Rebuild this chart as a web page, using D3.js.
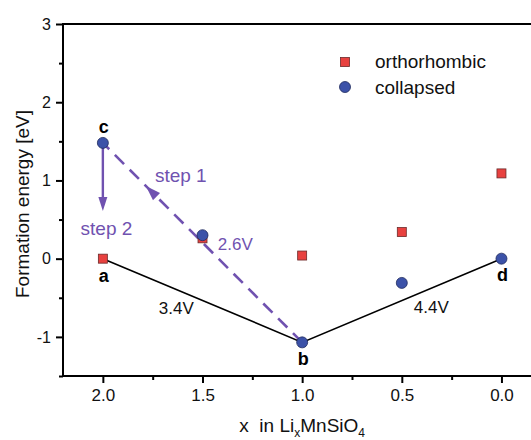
<!DOCTYPE html>
<html><head><meta charset="utf-8">
<script src="https://cdn.jsdelivr.net/npm/d3@7"></script>
<style>body{margin:0;background:#fff}svg{display:block}text{font-family:"Liberation Sans",Arial,sans-serif}</style>
</head><body><svg id="chart" width="531" height="440"></svg>
<script>
// ---- data ----
const xValues = [2.0, 1.5, 1.0, 0.5, 0.0];
const orthorhombic = [0.0, 0.26, 0.04, 0.34, 1.09];
const collapsed = [1.48, 0.30, -1.07, -0.31, 0.0];
const hullX = [2.0, 1.0, 0.0];
const hullY = [0.0, -1.07, 0.0];
const xTicks = [2.0, 1.5, 1.0, 0.5, 0.0];
const xTickLabels = ["2.0", "1.5", "1.0", "0.5", "0.0"];
const xMinorTicks = [1.75, 1.25, 0.75, 0.25];
const yTicks = [-1, 0, 1, 2, 3];
const yTickLabels = ["-1", "0", "1", "2", "3"];
const yMinorTicks = [-1.5, -0.5, 0.5, 1.5, 2.5];
const seriesNames = ["orthorhombic", "collapsed"];
const pointNames = ["a", "b", "c", "d"];
const voltageLabels = ["3.4V", "4.4V", "2.6V"];
const stepLabels = ["step 1", "step 2"];

// ---- layout ----
const svg = d3.select("#chart");
const x = d3.scaleLinear().domain([2.2, -0.2]).range([63, 63 + 2.4 * 199.3]);
const y = d3.scaleLinear().domain([-1.5, 3]).range([376, 24]);
const purple = "#7052b0";
const red = "#e8413f", blue = "#3c52a8";

// frame
svg.append("rect").attr("x", x(2.2)).attr("y", y(3))
  .attr("width", x(-0.2) - x(2.2)).attr("height", y(-1.5) - y(3))
  .attr("fill", "none").attr("stroke", "#000").attr("stroke-width", 2);

// axes
const xAxis = svg.append("g").attr("transform", `translate(0,${y(-1.5)})`)
  .call(d3.axisBottom(x).tickValues(xTicks).tickSize(7).tickPadding(6)
    .tickFormat((d, i) => xTickLabels[i]));
const xMinor = svg.append("g").attr("transform", `translate(0,${y(-1.5)})`)
  .call(d3.axisBottom(x).tickValues(xMinorTicks).tickSize(4).tickFormat(""));
const yAxis = svg.append("g").attr("transform", `translate(${x(2.2)},0)`)
  .call(d3.axisLeft(y).tickValues(yTicks).tickSize(7).tickPadding(5)
    .tickFormat((d, i) => yTickLabels[i]));
const yMinor = svg.append("g").attr("transform", `translate(${x(2.2)},0)`)
  .call(d3.axisLeft(y).tickValues(yMinorTicks).tickSize(4).tickFormat(""));
[xAxis, xMinor, yAxis, yMinor].forEach(g => {
  g.select(".domain").remove();
  g.selectAll(".tick line").attr("stroke", "#000").attr("stroke-width", 2);
});
xAxis.selectAll("text").attr("font-size", 17).attr("fill", "#111")
  .attr("font-family", '"Liberation Sans",Arial,sans-serif');
yAxis.selectAll("text").attr("font-size", 16).attr("fill", "#111")
  .attr("font-family", '"Liberation Sans",Arial,sans-serif');

// axis titles
svg.append("text").attr("transform", `translate(29,${(y(-1.5)+y(3))/2 + 4}) rotate(-90)`)
  .attr("text-anchor", "middle").attr("font-size", 19).attr("fill", "#111")
  .text("Formation energy [eV]");
const xt = svg.append("text").attr("x", x(1.0)).attr("y", 432)
  .attr("text-anchor", "middle").attr("font-size", 19).attr("fill", "#111");
xt.append("tspan").text("x\u00a0\u00a0in Li");
xt.append("tspan").attr("font-size", 12).attr("dy", 5).text("x");
xt.append("tspan").attr("dy", -5).text("MnSiO");
xt.append("tspan").attr("font-size", 12).attr("dy", 5).text("4");

// convex hull line
const hull = hullX.map((d, i) => [d, hullY[i]]);
svg.append("path").datum(hull)
  .attr("d", d3.line().x(d => x(d[0])).y(d => y(d[1])))
  .attr("fill", "none").attr("stroke", "#000").attr("stroke-width", 1.6);

// step 1 dashed line b -> c
const bPt = [xValues[2], collapsed[2]], cPt = [xValues[0], collapsed[0]];
svg.append("line").attr("x1", x(bPt[0])).attr("y1", y(bPt[1]))
  .attr("x2", x(cPt[0])).attr("y2", y(cPt[1]))
  .attr("stroke", purple).attr("stroke-width", 2.6).attr("stroke-dasharray", "13,8");
// arrow head helper
function arrowHead(tx, ty, ang, len, hw) {
  const bx = tx - len * Math.cos(ang), by = ty - len * Math.sin(ang);
  const px = -Math.sin(ang), py = Math.cos(ang);
  return `M${tx},${ty}L${bx + hw*px},${by + hw*py}L${bx - hw*px},${by - hw*py}Z`;
}
{
  const x1 = x(bPt[0]), y1 = y(bPt[1]), x2 = x(cPt[0]), y2 = y(cPt[1]);
  const t = 0.784;
  const tx = x1 + (x2 - x1) * t, ty = y1 + (y2 - y1) * t;
  const ang = Math.atan2(y2 - y1, x2 - x1);
  svg.append("path").attr("d", arrowHead(tx, ty, ang, 15, 5)).attr("fill", purple);
}
// step 2 vertical arrow
{
  const cx = x(cPt[0]), cy = y(cPt[1]), ty = y(0.61);
  svg.append("line").attr("x1", cx).attr("y1", cy).attr("x2", cx).attr("y2", ty - 10)
    .attr("stroke", purple).attr("stroke-width", 2.4);
  svg.append("path").attr("d", arrowHead(cx, ty, Math.PI / 2, 14, 4.5)).attr("fill", purple);
}

// markers
svg.append("g").selectAll("rect").data(xValues).join("rect")
  .attr("x", d => x(d) - 4.5).attr("y", (d, i) => y(orthorhombic[i]) - 4.5)
  .attr("width", 9).attr("height", 9)
  .attr("fill", red).attr("stroke", "#6b2a2a").attr("stroke-width", 0.8);
svg.append("g").selectAll("circle").data(xValues).join("circle")
  .attr("cx", d => x(d)).attr("cy", (d, i) => y(collapsed[i])).attr("r", 5.5)
  .attr("fill", blue).attr("stroke", "#1f2b5e").attr("stroke-width", 0.8);

// point labels a, b, c, d
const labelAnchors = [[xValues[0], orthorhombic[0], 23], [xValues[2], collapsed[2], 23],
                      [xValues[0], collapsed[0], -10], [xValues[4], collapsed[4], 22]];
svg.append("g").selectAll("text").data(pointNames).join("text")
  .attr("x", (d, i) => x(labelAnchors[i][0]) + 1)
  .attr("y", (d, i) => y(labelAnchors[i][1]) + labelAnchors[i][2])
  .attr("text-anchor", "middle").attr("font-size", 18).attr("font-weight", "bold")
  .attr("fill", "#000").text(d => d);

// voltage labels
const vPos = [[1.719, -0.71, "#111"], [0.44, -0.70, "#111"], [1.423, 0.106, purple]];
svg.append("g").selectAll("text").data(voltageLabels).join("text")
  .attr("x", (d, i) => x(vPos[i][0])).attr("y", (d, i) => y(vPos[i][1]))
  .attr("font-size", 17).attr("fill", (d, i) => vPos[i][2]).text(d => d);

// step labels
const sPos = [[1.739, 0.98], [2.112, 0.30]];
svg.append("g").selectAll("text").data(stepLabels).join("text")
  .attr("x", (d, i) => x(sPos[i][0])).attr("y", (d, i) => y(sPos[i][1]))
  .attr("font-size", 19).attr("fill", purple).text(d => d);

// legend
const lg = svg.append("g");
lg.append("rect").attr("x", 340.5).attr("y", 57.5).attr("width", 9).attr("height", 9)
  .attr("fill", red).attr("stroke", "#6b2a2a").attr("stroke-width", 0.8);
lg.append("circle").attr("cx", 345).attr("cy", 87).attr("r", 5.5)
  .attr("fill", blue).attr("stroke", "#1f2b5e").attr("stroke-width", 0.8);
lg.selectAll("text").data(seriesNames).join("text")
  .attr("x", 375).attr("y", (d, i) => 68 + i * 26)
  .attr("font-size", 19).attr("fill", "#111").text(d => d);
</script></body></html>
